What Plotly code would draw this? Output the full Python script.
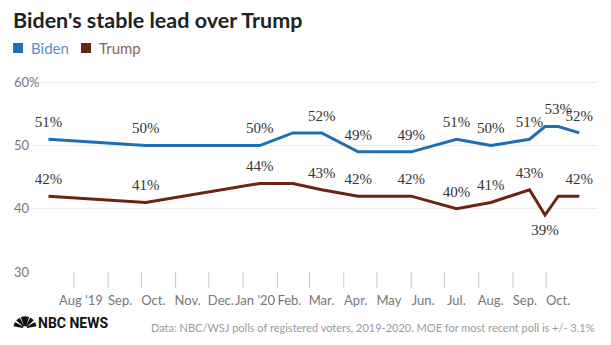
import math
import plotly.graph_objects as go

# NBC/WSJ poll results among registered voters
poll_dates = ["2019-07-09", "2019-10-05", "2020-01-16", "2020-02-15", "2020-03-12",
              "2020-04-14", "2020-06-01", "2020-07-12", "2020-08-12", "2020-09-16",
              "2020-09-30", "2020-10-12", "2020-10-31"]
biden = [51, 50, 50, 52, 52, 49, 49, 51, 50, 51, 53, 53, 52]
trump = [42, 41, 44, 44, 43, 42, 42, 40, 41, 43, 39, 42, 42]

# which polls get a value label
biden_labeled = [1, 1, 1, 0, 1, 1, 1, 1, 1, 1, 0, 1, 1]
trump_labeled = [1, 1, 1, 0, 1, 1, 1, 1, 1, 1, 1, 0, 1]
trump_below = [0, 0, 0, 0, 0, 0, 0, 0, 0, 0, 1, 0, 0]

month_ticks = ["2019-08-01", "2019-09-01", "2019-10-01", "2019-11-01", "2019-12-01",
               "2020-01-01", "2020-02-01", "2020-03-01", "2020-04-01", "2020-05-01",
               "2020-06-01", "2020-07-01", "2020-08-01", "2020-09-01", "2020-10-01"]
month_labels = ["Aug '19\u00a0\u00a0\u00a0", "Sep.", "Oct.", "Nov.", "Dec.",
                "Jan '20", "Feb.", "Mar.", "Apr.", "May", "Jun.", "Jul.", "Aug.",
                "Sep.", "Oct."]

y_ticks = [30, 40, 50, 60]
y_labels = ["30", "40", "50", "60%"]

series_names = ["Biden", "Trump"]
series_colors = ["#1f6db4", "#6b2412"]
legend_text_colors = ["#5a8fc5", "#8c6457"]

W, H = 611, 345
ML, MR, MT, MB = 33, 14, 76, 73
PW, PH = W - ML - MR, H - MT - MB
TICK_LEN = 16


def px_x(p):
    """Horizontal page pixel -> paper fraction."""
    return (p - ML) / PW


def px_y(p):
    """Vertical page pixel (from top) -> paper fraction."""
    return (H - MB - p) / PH


fig = go.Figure()

for vals, col in zip([biden, trump], series_colors):
    fig.add_trace(go.Scatter(x=poll_dates, y=vals, mode="lines", showlegend=False,
                             line=dict(color=col, width=3), hoverinfo="skip"))

# value labels; an invisible marker keeps the text clear of the line
label_font = dict(family="Liberation Serif", size=15, color="#333333")
ghost = dict(size=12, color="rgba(0,0,0,0)")
fig.add_trace(go.Scatter(
    x=poll_dates, y=biden, mode="markers+text", showlegend=False, cliponaxis=False,
    marker=ghost,
    text=[f"{v}%" if f else "" for v, f in zip(biden, biden_labeled)],
    textposition="top center", textfont=label_font, hoverinfo="skip"))
fig.add_trace(go.Scatter(
    x=poll_dates, y=trump, mode="markers+text", showlegend=False, cliponaxis=False,
    marker=ghost,
    text=[f"{v}%" if f else "" for v, f in zip(trump, trump_labeled)],
    textposition=["bottom center" if b else "top center" for b in trump_below],
    textfont=label_font, hoverinfo="skip"))

fig.update_layout(
    width=W, height=H,
    margin=dict(l=ML, r=MR, t=MT, b=MB),
    paper_bgcolor="white", plot_bgcolor="white",
    font=dict(family="Lato", color="#777777"),
    showlegend=False,
    title=dict(text="<b>Biden's stable lead over Trump</b>",
               x=13 / W, xanchor="left", y=1 - 20 / H, yanchor="middle",
               font=dict(family="Lato", size=21.5, color="#222222")),
    xaxis=dict(type="date", range=["2019-06-25", "2020-11-16"],
               tickmode="array", tickvals=month_ticks, ticktext=month_labels,
               tickangle=0,
               ticks="outside", ticklen=TICK_LEN, tickcolor="rgba(0,0,0,0)",
               ticklabelshift=12, tickfont=dict(size=13, color="#777777"),
               showgrid=False, zeroline=False, showline=False),
    yaxis=dict(range=[30, 61], tickmode="array", tickvals=y_ticks, ticktext=y_labels,
               ticklabelposition="inside", ticklabelstandoff=-22,
               ticklabeloverflow="allow",
               tickfont=dict(size=13, color="#777777"),
               showgrid=True, gridcolor="#ececec", gridwidth=1,
               zeroline=False, showline=False),
)

# month boundary tick marks hanging below the plot
for d in month_ticks:
    fig.add_shape(type="line", xref="x", yref="paper",
                  x0=d, x1=d, y0=0, y1=-TICK_LEN / PH,
                  line=dict(color="#c8c8c8", width=1))

# key: coloured squares with series names
for name, col, tcol, sx, tx in zip(series_names, series_colors, legend_text_colors,
                                   [18, 86], [30, 98]):
    fig.add_shape(type="rect", xref="paper", yref="paper",
                  xsizemode="pixel", ysizemode="pixel",
                  xanchor=px_x(sx), yanchor=px_y(48),
                  x0=-5, x1=5, y0=-5, y1=5,
                  fillcolor=col, line=dict(width=0))
    fig.add_annotation(text=name, xref="paper", yref="paper",
                       x=px_x(tx), xanchor="left", y=px_y(48), yanchor="middle",
                       showarrow=False, xshift=-1,
                       font=dict(family="Lato", size=15, color=tcol))

# footer: source line
fig.add_annotation(
    text="Data: NBC/WSJ polls of registered voters, 2019-2020. MOE for most recent poll is +/- 3.1%",
    xref="paper", yref="paper", x=1, xanchor="right",
    y=px_y(327), yanchor="middle", showarrow=False,
    font=dict(family="Lato", size=11, color="#9a9a9a"))

# footer: NBC News wordmark with a small peacock
fig.add_annotation(
    text="<b>NBC NEWS</b>", xref="paper", yref="paper",
    x=px_x(36), xanchor="left",
    y=px_y(323), yanchor="middle", showarrow=False,
    font=dict(family="Roboto", size=14, color="#111111"))

for ang in [160, 128, 100, 80, 52, 20]:
    a = math.radians(ang)
    r0, r1, w = 2.0, 11.5, 2.2
    cx, cy = math.cos(a), math.sin(a)
    nx, ny = -math.sin(a), math.cos(a)
    p = (f"M {r0*cx - w*nx*0.3:.2f},{r0*cy - w*ny*0.3:.2f} "
         f"L {r1*cx - w*nx:.2f},{r1*cy - w*ny:.2f} "
         f"L {r1*cx + w*nx:.2f},{r1*cy + w*ny:.2f} "
         f"L {r0*cx + w*nx*0.3:.2f},{r0*cy + w*ny*0.3:.2f} Z")
    fig.add_shape(type="path", path=p, xref="paper", yref="paper",
                  xsizemode="pixel", ysizemode="pixel",
                  xanchor=px_x(25), yanchor=px_y(328),
                  fillcolor="#111111", line=dict(width=0))

fig.write_html("out.html")
